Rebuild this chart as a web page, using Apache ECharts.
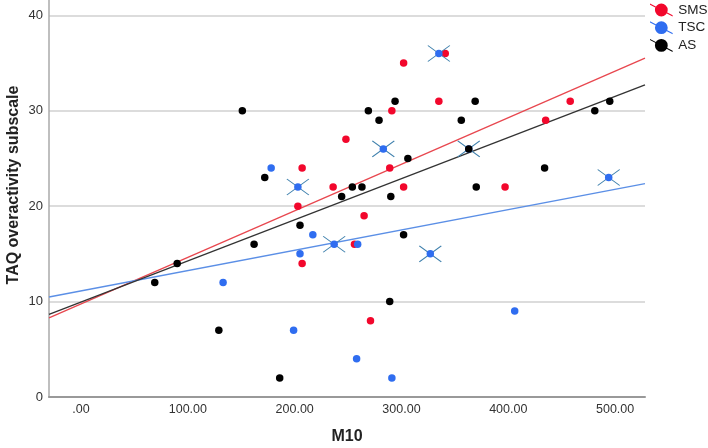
<!DOCTYPE html>
<html><head><meta charset="utf-8">
<script src="https://cdn.jsdelivr.net/npm/echarts@6/dist/echarts.min.js"></script>
<style>html,body{margin:0;padding:0;background:#fff}#c{width:708px;height:448px}</style>
</head><body><div id="c"></div>
<script>
const seriesNames = ['SMS', 'TSC', 'AS'];
const smsPoints = [[341,36],[302,35],[335,31],[291,30],[248,27],[207,24],[289,24],[236,22],[302,22],[397,22],[203,20],[265,19],[256,16],[207,14],[271,8],[458,31],[435,29]];
const tscPoints = [[335,36],[283,26],[363,26],[178,24],[203,22],[217,17],[237,16],[259,16],[205,15],[327,15],[133,12],[199,7],[258,4],[291,2],[406,9],[494,23]];
const tscCrossed = [[335,36],[283,26],[363,26],[203,22],[237,16],[327,15],[494,23]];
const asPoints = [[294,31],[369,31],[151,30],[269,30],[279,29],[356,29],[363,26],[306,25],[172,23],[254,22],[263,22],[370,22],[244,21],[290,21],[205,18],[302,17],[162,16],[90,14],[69,12],[129,7],[186,2],[289,10],[434,24],[481,30],[495,31]];
const smsFit = [[-30,8.3],[528,35.5]];
const tscFit = [[-30,10.48],[528,22.36]];
const asFit = [[-30,8.66],[528,32.71]];
const xTickValues = [0,100,200,300,400,500];
const xTickLabels = ['.00','100.00','200.00','300.00','400.00','500.00'];
const yTickValues = [0,10,20,30,40];
const yTickLabels = ['0','10','20','30','40'];

const FONT = '"Liberation Sans", Arial, sans-serif';
const colors = { SMS: '#f2072c', TSC: '#2f6df0', AS: '#000000' };
const fitColors = { SMS: '#e8474f', TSC: '#5b8fe6', AS: '#333333' };
const legendIcon = 'path://M0,-0.6L23,11.4L23,12.6L0,0.6Z M5,6A6.5,6.5 0 1 1 18,6A6.5,6.5 0 1 1 5,6Z';

const chart = echarts.init(document.getElementById('c'), null, { renderer: 'canvas' });
const fitLine = (name, data) => ({
  name: name + ' fit', type: 'line', data: data, symbol: 'none', silent: true,
  lineStyle: { color: fitColors[name], width: 1.3 }, z: 1
});
const scatter = (name, data) => ({
  name: name, type: 'scatter', data: data, symbol: 'circle', symbolSize: 7.5,
  itemStyle: { color: colors[name], opacity: 1 }, z: 3
});
chart.setOption({
  animation: false,
  backgroundColor: '#ffffff',
  grid: { left: 49, right: 63, top: 0, bottom: 51, containLabel: false },
  legend: {
    orient: 'vertical', left: 650, top: 3, padding: 0,
    itemWidth: 24, itemHeight: 13, itemGap: 3.7, selectedMode: false,
    icon: legendIcon,
    textStyle: { fontSize: 13.5, color: '#222', fontFamily: FONT },
    data: seriesNames
  },
  xAxis: {
    type: 'value', min: -30, max: 528,
    axisLine: { show: true, onZero: false, lineStyle: { color: '#999', width: 2 } },
    axisTick: { show: false },
    splitLine: { show: false },
    axisLabel: {
      customValues: xTickValues,
      formatter: v => xTickLabels[xTickValues.indexOf(v)] || '',
      fontSize: 12.5, color: '#333', margin: 6, fontFamily: FONT
    }
  },
  yAxis: {
    type: 'value', min: 0, max: 41.6, interval: 10,
    axisLine: { show: true, onZero: false, lineStyle: { color: '#aaa', width: 1.5 } },
    axisTick: { show: false },
    splitLine: { show: true, showMinLine: false, showMaxLine: false, lineStyle: { color: '#d0d0d0', width: 1.5 } },
    axisLabel: {
      customValues: yTickValues,
      formatter: v => yTickLabels[yTickValues.indexOf(v)] || '',
      fontSize: 13, color: '#333', margin: 6, fontFamily: FONT
    }
  },
  series: [
    fitLine('SMS', smsFit),
    fitLine('TSC', tscFit),
    fitLine('AS', asFit),
    scatter('SMS', smsPoints),
    {
      name: 'TSC marked', type: 'scatter', data: tscCrossed, silent: true,
      symbol: 'path://M0,0L22,16M0,16L22,0', symbolSize: [22, 16],
      itemStyle: { color: 'rgba(0,0,0,0)', borderColor: '#3f80ad', borderWidth: 1, opacity: 1 }, z: 3
    },
    scatter('TSC', tscPoints),
    scatter('AS', asPoints)
  ],
  graphic: [
    { type: 'text', x: 347, y: 437, style: { text: 'M10', font: 'bold 16px ' + FONT, fill: '#222', align: 'center', verticalAlign: 'middle', textAlign: 'center', textVerticalAlign: 'middle' } },
    { type: 'text', x: 14, y: 185, rotation: Math.PI / 2, style: { text: 'TAQ overactivity subscale', font: 'bold 16px ' + FONT, fill: '#222', align: 'center', verticalAlign: 'middle', textAlign: 'center', textVerticalAlign: 'middle' } }
  ]
});
</script>
</body></html>
